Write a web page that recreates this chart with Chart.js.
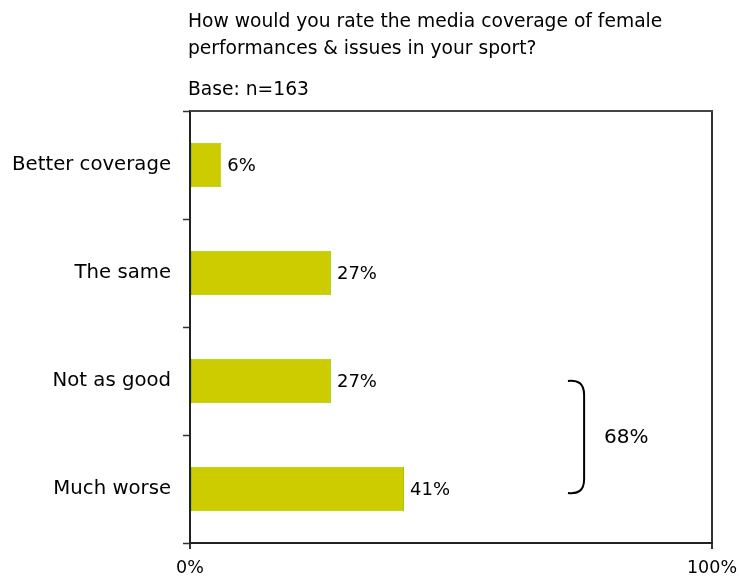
<!DOCTYPE html>
<html>
<head>
<meta charset="utf-8">
<script src="https://cdn.jsdelivr.net/npm/chart.js@4.4.1/dist/chart.umd.min.js"></script>
<style>
  html, body { margin: 0; padding: 0; background: #ffffff; }
  canvas { display: block; }
</style>
</head>
<body>
<canvas id="c" width="740" height="583"></canvas>
<script>
// ---- Data ----
const categories = ['Better coverage', 'The same', 'Not as good', 'Much worse'];
const values = [6, 27, 27, 41];
const xTickValues = [0, 100];
const titleLines = ['How would you rate the media coverage of female', 'performances & issues in your sport?'];
const baseText = 'Base: n=163';
const bracketIndices = [2, 3];
const bracketSum = bracketIndices.reduce((s, i) => s + values[i], 0);
const bracketRange = [72.4, 75.5]; // x-extent of the brace, in axis units (%)

const FONT = 'DejaVu Sans';
Chart.defaults.font.family = FONT;
Chart.defaults.color = '#000000';

const titlePlugin = {
  id: 'titleText',
  afterDraw(chart) {
    const ctx = chart.ctx;
    const a = chart.chartArea;
    ctx.save();
    ctx.fillStyle = '#000';
    ctx.textAlign = 'left';
    ctx.textBaseline = 'alphabetic';
    ctx.font = '18.7px "' + FONT + '"';
    ctx.fillText(titleLines[0], a.left - 2, 27);
    ctx.fillText(titleLines[1], a.left - 2, 54);
    ctx.fillText(baseText, a.left - 2, 95);
    ctx.restore();
  }
};

const framePlugin = {
  id: 'frame',
  afterDraw(chart) {
    const ctx = chart.ctx;
    const a = chart.chartArea;
    ctx.save();
    ctx.strokeStyle = '#444';
    ctx.lineWidth = 2;
    ctx.beginPath();
    ctx.moveTo(a.left, a.top);
    ctx.lineTo(a.right + 1, a.top);
    ctx.stroke();
    ctx.restore();
  }
};

const valueLabelPlugin = {
  id: 'valueLabels',
  afterDatasetsDraw(chart) {
    const ctx = chart.ctx;
    const meta = chart.getDatasetMeta(0);
    ctx.save();
    ctx.fillStyle = '#000';
    ctx.font = '18px "' + FONT + '"';
    ctx.textAlign = 'left';
    ctx.textBaseline = 'middle';
    meta.data.forEach((bar, i) => {
      ctx.fillText(values[i] + '%', bar.x + 6, bar.y + 1);
    });
    ctx.restore();
  }
};

const bracePlugin = {
  id: 'brace',
  afterDraw(chart) {
    const ctx = chart.ctx;
    const xs = chart.scales.x, ys = chart.scales.y;
    const x0 = xs.getPixelForValue(bracketRange[0]);
    const x1 = xs.getPixelForValue(bracketRange[1]);
    const y0 = ys.getPixelForValue(bracketIndices[0]);
    const y1 = ys.getPixelForValue(bracketIndices[1]) + 4;
    ctx.save();
    ctx.strokeStyle = '#000';
    ctx.lineWidth = 2;
    ctx.beginPath();
    ctx.moveTo(x0, y0);
    ctx.bezierCurveTo(x0 + 10, y0 - 1, x1, y0 + 2, x1, y0 + 14);
    ctx.lineTo(x1, y1 - 14);
    ctx.bezierCurveTo(x1, y1 - 2, x0 + 10, y1 + 1, x0, y1);
    ctx.stroke();
    ctx.fillStyle = '#000';
    ctx.font = '20px "' + FONT + '"';
    ctx.textAlign = 'left';
    ctx.textBaseline = 'middle';
    ctx.fillText(bracketSum + '%', x1 + 20, (y0 + y1) / 2 + 1);
    ctx.restore();
  }
};

new Chart(document.getElementById('c'), {
  type: 'bar',
  data: {
    labels: categories,
    datasets: [{
      data: values,
      backgroundColor: '#CCCC00',
      borderColor: '#99CC00',
      borderWidth: 1,
      borderSkipped: false,
      barPercentage: 0.41,
      categoryPercentage: 1.0
    }]
  },
  options: {
    indexAxis: 'y',
    responsive: false,
    animation: false,
    layout: { padding: { left: 0, top: 111, right: 28, bottom: 0 } },
    plugins: {
      legend: { display: false },
      title: { display: false },
      tooltip: { enabled: false }
    },
    scales: {
      y: {
        type: 'category',
        offset: true,
        afterFit(scale) { scale.width = 190; scale.paddingTop = 0; scale.paddingBottom = 0; },
        grid: {
          offset: true,
          drawOnChartArea: false,
          drawTicks: true,
          tickLength: 7,
          tickColor: '#333',
          tickWidth: 1.5
        },
        border: { display: true, color: '#222', width: 2 },
        ticks: {
          padding: 12,
          color: '#000',
          font: { size: 19.7, family: FONT }
        }
      },
      x: {
        type: 'linear',
        min: 0,
        max: 100,
        afterBuildTicks(scale) { scale.ticks = xTickValues.map(v => ({ value: v })); },
        afterFit(scale) { scale.height = 40; scale.paddingLeft = 0; scale.paddingRight = 0; },
        grid: {
          drawOnChartArea: true,
          drawTicks: true,
          tickLength: 6,
          lineWidth: 2,
          color: (c) => (c.tick && c.tick.value === 100) ? '#333' : 'rgba(0,0,0,0)',
          tickColor: '#333'
        },
        border: { display: true, color: '#222', width: 2 },
        ticks: {
          padding: 9,
          color: '#000',
          maxRotation: 0,
          font: { size: 17.5, family: FONT },
          callback: (v) => v + '%'
        }
      }
    }
  },
  plugins: [titlePlugin, framePlugin, valueLabelPlugin, bracePlugin]
});
</script>
</body>
</html>
